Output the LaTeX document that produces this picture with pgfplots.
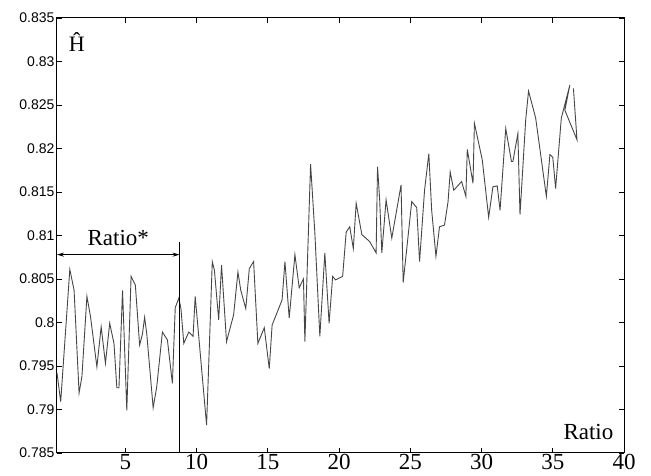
\documentclass[border=0pt]{standalone}
\usepackage{fontspec}
\setmainfont{Liberation Serif}
\setsansfont{Liberation Sans}
\usepackage{pgfplots}
\pgfplotsset{compat=1.18}
\usetikzlibrary{arrows.meta}

\definecolor{linegray}{RGB}{70,70,70}

\begin{document}
\begin{tikzpicture}
  \begin{axis}[
    width=567pt, height=435pt,
    scale only axis,
    xmin=0.2, xmax=40,
    ymin=0.785, ymax=0.835,
    xtick={5,10,15,20,25,30,35,40},
    ytick={0.785,0.79,0.795,0.8,0.805,0.81,0.815,0.82,0.825,0.83,0.835},
    scaled y ticks=false,
    /pgf/number format/assume math mode=true,
    yticklabel={\pgfmathprintnumber[fixed,precision=3]{\tick}},
    yticklabel style={font=\fontsize{14}{14}\sffamily, xshift=1pt},
    xticklabel style={font=\fontsize{23}{23}\selectfont, yshift=2pt},
    tick align=inside,
    major tick length=5pt,
    tick style={black, line width=0.8pt},
    axis line style={black, line width=1pt},
    clip=false,
  ]
    \addplot[linegray, line width=0.9pt, no marks] coordinates {
      (0.2,0.7942) (0.46,0.7909) (1.1,0.8061) (1.4,0.8037) (1.75,0.7919)
      (1.95,0.7938) (2.3,0.8030) (2.55,0.8007) (3.0,0.7949) (3.3,0.7995)
      (3.6,0.7953) (3.9,0.7999) (4.2,0.7976) (4.4,0.7925) (4.55,0.7925)
      (4.8,0.8037) (5.1,0.7899) (5.4,0.8053) (5.7,0.8043) (6.0,0.7974)
      (6.2,0.7987) (6.35,0.8006) (6.5,0.7987) (6.95,0.7902) (7.2,0.7926)
      (7.6,0.7989) (7.95,0.7980) (8.3,0.7930) (8.5,0.8017) (8.75,0.8028)
      (8.9,0.8016) (9.1,0.7976) (9.45,0.7989) (9.75,0.7984) (9.9,0.8030)
      (10.15,0.7984) (10.7,0.7882) (10.85,0.7952) (11.1,0.8070) (11.25,0.8060)
      (11.55,0.8003) (11.75,0.8066) (12.1,0.7978) (12.6,0.8009) (12.9,0.8058)
      (13.1,0.8037) (13.45,0.8016) (13.7,0.8062) (14.0,0.8070) (14.3,0.7976)
      (14.75,0.7994) (15.1,0.7947) (15.3,0.7997) (16.0,0.8026) (16.2,0.8070)
      (16.5,0.8005) (16.9,0.8078) (17.2,0.8040) (17.5,0.8050) (17.6,0.7978)
      (17.8,0.8080) (18.0,0.8182) (18.3,0.8103) (18.65,0.7984) (19.0,0.8080)
      (19.3,0.7999) (19.55,0.8053) (19.75,0.8049) (20.25,0.8053) (20.5,0.8104)
      (20.75,0.8110) (21.0,0.8085) (21.2,0.8137) (21.6,0.8101) (22.15,0.8093)
      (22.6,0.8080) (22.7,0.8179) (22.85,0.8141) (23.0,0.8080) (23.3,0.8141)
      (23.7,0.8097) (24.35,0.8158) (24.5,0.8046) (25.1,0.8139) (25.45,0.8132)
      (25.65,0.8070) (26.0,0.8152) (26.3,0.8194) (26.5,0.8129) (26.8,0.8076)
      (27.05,0.8110) (27.4,0.8112) (27.65,0.8139) (27.8,0.8173) (28.05,0.8152)
      (28.6,0.8162) (28.9,0.8145) (29.0,0.8199) (29.4,0.8160) (29.5,0.8229)
      (30.05,0.8187) (30.5,0.8121) (30.8,0.8156) (31.1,0.8157) (31.3,0.8129)
      (31.7,0.8223) (32.1,0.8185) (32.2,0.8185) (32.55,0.8217) (32.7,0.8124)
      (33.1,0.8233) (33.3,0.8266) (33.8,0.8235) (34.3,0.8175) (34.55,0.8145)
      (34.8,0.8193) (35.0,0.8190) (35.2,0.8154) (35.6,0.8235) (36.2,0.8273)
      (35.85,0.8244) (36.7,0.8210) (36.45,0.8269)
    };
    % Ratio* marker line and arrow
    \addplot[black, line width=0.9pt, no marks] coordinates {(8.8,0.785) (8.8,0.8093)};
    \addplot[black, line width=0.8pt, no marks, {Stealth[length=7pt,width=4pt]}-{Stealth[length=7pt,width=4pt]}]
      coordinates {(0.2,0.8078) (8.8,0.8078)};
    \node[font=\fontsize{23}{23}\selectfont, anchor=base] at (axis cs:4.5,0.8088) {Ratio*};
    \node[font=\fontsize{23}{23}\selectfont, anchor=base east] at (axis cs:39.5,0.7865) {Ratio};
    \node[font=\fontsize{22}{22}\selectfont] at (axis cs:1.6,0.8322) {Ĥ};
    \coordinate (sw) at (rel axis cs:0,0);
  \end{axis}
  \path (sw) ++(-57pt,-23pt) rectangle ++(651pt,476pt);
\end{tikzpicture}
\end{document}
